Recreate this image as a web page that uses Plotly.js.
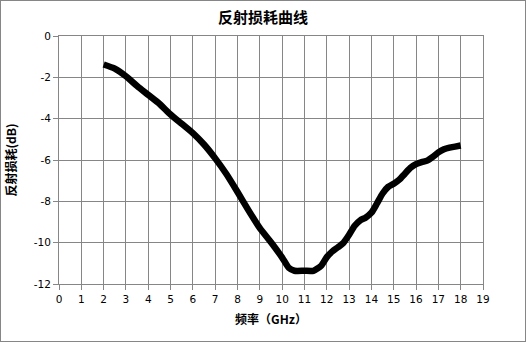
<!DOCTYPE html>
<html>
<head>
<meta charset="utf-8">
<script src="https://cdn.plot.ly/plotly-3.0.1.min.js"></script>
<style>
html,body{margin:0;padding:0;background:#fff;}
#wrap{position:relative;width:526px;height:342px;}
#chart{width:526px;height:342px;}
#frame{position:absolute;left:0;top:0;width:524px;height:340px;border:1px solid #868686;pointer-events:none;}
</style>
</head>
<body>
<div id="wrap"><div id="chart"></div><div id="frame"></div></div>
<script>
var freqGHz = [2, 2.5, 3, 3.5, 4, 4.5, 5, 5.5, 6, 6.5, 7, 7.5, 8, 8.5, 9, 9.5, 10, 10.3, 10.55, 11, 11.4, 11.75, 12, 12.25, 12.5, 12.75, 13, 13.25, 13.5, 13.75, 14, 14.25, 14.5, 14.75, 15, 15.25, 15.5, 15.75, 16, 16.25, 16.5, 16.75, 17, 17.25, 17.5, 17.75, 18];
var returnLossDB = [-1.38, -1.58, -1.95, -2.42, -2.85, -3.28, -3.80, -4.25, -4.70, -5.25, -5.92, -6.68, -7.55, -8.45, -9.30, -9.98, -10.72, -11.22, -11.36, -11.36, -11.36, -11.12, -10.70, -10.42, -10.22, -10.00, -9.62, -9.18, -8.92, -8.78, -8.55, -8.10, -7.62, -7.30, -7.15, -6.95, -6.66, -6.38, -6.20, -6.10, -6.03, -5.85, -5.63, -5.48, -5.40, -5.35, -5.30];
var xTicks = [0,1,2,3,4,5,6,7,8,9,10,11,12,13,14,15,16,17,18,19];
var yTicks = [0,-2,-4,-6,-8,-10,-12];

var trace = {
  x: freqGHz, y: returnLossDB, type: 'scatter', mode: 'lines',
  line: {color: '#000000', width: 6.5, shape: 'spline', smoothing: 0.6},
  hoverinfo: 'skip'
};

var cjk = '"Noto Sans CJK SC", "DejaVu Sans", sans-serif';
var tickFont = {family: '"DejaVu Sans", sans-serif', size: 10.5, color: '#000'};

var layout = {
  width: 526, height: 342,
  margin: {l: 59, r: 43, t: 36, b: 58},
  paper_bgcolor: '#fff', plot_bgcolor: '#fff',
  showlegend: false,
  title: {text: '<b>反射损耗曲线</b>', font: {family: cjk, size: 15, color: '#000'},
          x: 0.5, xref: 'container', xanchor: 'center', y: 0.947, yref: 'container', yanchor: 'middle'},
  xaxis: {
    range: [0, 19], tickvals: xTicks, ticktext: xTicks.map(String),
    showgrid: true, gridcolor: '#868686', gridwidth: 1,
    showline: true, linecolor: '#868686', linewidth: 1, mirror: true,
    ticks: 'outside', ticklen: 5, tickcolor: '#868686',
    zeroline: false, tickfont: tickFont,
    title: {text: '<b>频率（GHz）</b>', font: {family: cjk, size: 12, color: '#000'}, standoff: 12}
  },
  yaxis: {
    range: [-12, 0], tickvals: yTicks, ticktext: yTicks.map(String),
    showgrid: true, gridcolor: '#868686', gridwidth: 1,
    showline: true, linecolor: '#868686', linewidth: 1, mirror: true,
    ticks: 'outside', ticklen: 5, tickcolor: '#868686',
    zeroline: false, tickfont: tickFont,
    title: {text: '<b>反射损耗(dB)</b>', font: {family: cjk, size: 12, color: '#000'}, standoff: 14}
  }
};

Plotly.newPlot('chart', [trace], layout, {staticPlot: true, displayModeBar: false});
</script>
</body>
</html>
